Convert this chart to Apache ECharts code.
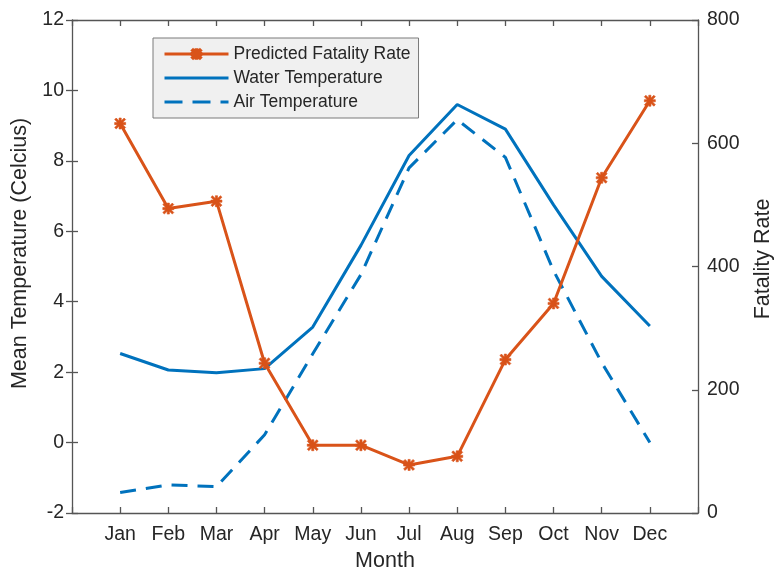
<!DOCTYPE html>
<html>
<head>
<meta charset="utf-8">
<script src="https://cdn.jsdelivr.net/npm/echarts@6/dist/echarts.min.js"></script>
<style>
  html, body { margin: 0; padding: 0; background: #fff; }
  #chart { width: 774px; height: 572px; }
</style>
</head>
<body>
<div id="chart"></div>
<script>
// Monthly series
const months = ['Jan', 'Feb', 'Mar', 'Apr', 'May', 'Jun', 'Jul', 'Aug', 'Sep', 'Oct', 'Nov', 'Dec'];
const fatalityRate = [632, 494, 506, 243, 110, 110, 78, 92, 249, 340, 544, 669];
const waterTemp = [2.53, 2.06, 1.98, 2.10, 3.28, 5.6, 8.15, 9.6, 8.9, 6.75, 4.72, 3.31];
const airTemp = [-1.42, -1.2, -1.25, 0.22, 2.52, 4.77, 7.8, 9.17, 8.1, 4.88, 2.27, 0.0];

// Axis ranges and tick steps
const tempRange = { min: -2, max: 12, step: 2 };
const rateRange = { min: 0, max: 800, step: 200 };

const FONT = '"Liberation Sans", Arial, Helvetica, sans-serif';
const TEXT = '#262626';
const AXIS = '#555555';
const BLUE = '#0072BD';
const ORANGE = '#D95319';
const CLEAR = 'rgba(255,255,255,0)';

// Asterisk marker built from four bars
const ASTERISK = 'path://M0 4 L10 4 L10 6 L0 6 Z M4 0 L6 0 L6 10 L4 10 Z ' +
  'M1.4 0 L10 8.6 L8.6 10 L0 1.4 Z M8.6 0 L10 1.4 L1.4 10 L0 8.6 Z';

const toPoints = (vals) => vals.map((v, i) => [i + 1, v]);

const axisLine = () => ({ show: true, onZero: false, lineStyle: { color: AXIS, width: 1.3 } });
const axisTick = () => ({ show: true, inside: true, length: 6, lineStyle: { color: AXIS, width: 1.3 } });

const chart = echarts.init(document.getElementById('chart'));
chart.setOption({
  animation: false,
  grid: { left: 72, right: 76, top: 20, bottom: 59, outerBoundsMode: 'none' },
  legend: {
    data: [
      { name: 'Predicted Fatality Rate', lineStyle: { width: 3 } },
      { name: 'Water Temperature', lineStyle: { width: 3 }, itemStyle: { color: CLEAR, borderColor: CLEAR, borderWidth: 0 } },
      { name: 'Air Temperature', lineStyle: { width: 3, type: [18, 10] }, itemStyle: { color: CLEAR, borderColor: CLEAR, borderWidth: 0 } }
    ],
    orient: 'vertical',
    left: 153,
    top: 38,
    itemWidth: 64,
    itemHeight: 12,
    itemGap: 6,
    padding: [7, 8, 7, 10],
    backgroundColor: '#f0f0f0',
    borderColor: '#7a7a7a',
    borderWidth: 1,
    borderRadius: 0,
    textStyle: { color: TEXT, fontSize: 17.5, fontFamily: FONT }
  },
  xAxis: [
    { type: 'value', position: 'bottom', min: 0, max: 13, interval: 1,
      name: 'Month', nameLocation: 'middle', nameGap: 37,
      nameTextStyle: { color: TEXT, fontSize: 21.5, fontFamily: FONT },
      axisLine: axisLine(), axisTick: axisTick(),
      axisLabel: { color: TEXT, fontSize: 19.5, fontFamily: FONT, margin: 12, formatter: (v) => months[v - 1] || '' },
      splitLine: { show: false } },
    { type: 'value', position: 'top', min: 0, max: 13, interval: 1,
      axisLine: axisLine(), axisTick: axisTick(),
      axisLabel: { show: false }, splitLine: { show: false } }
  ],
  yAxis: [
    { type: 'value', position: 'left', min: tempRange.min, max: tempRange.max, interval: tempRange.step,
      name: 'Mean Temperature (Celcius)', nameLocation: 'middle', nameGap: 38, nameRotate: 90,
      nameTextStyle: { color: TEXT, fontSize: 21.5, fontFamily: FONT, padding: [0, 0, 0, 26] },
      axisLine: axisLine(), axisTick: axisTick(),
      axisLabel: { color: TEXT, fontSize: 19.5, fontFamily: FONT, margin: 8 },
      splitLine: { show: false } },
    { type: 'value', position: 'right', min: rateRange.min, max: rateRange.max, interval: rateRange.step,
      name: 'Fatality Rate', nameLocation: 'middle', nameGap: 54, nameRotate: 90,
      nameTextStyle: { color: TEXT, fontSize: 21.5, fontFamily: FONT, padding: [0, 0, 0, 15] },
      axisLine: axisLine(), axisTick: axisTick(),
      axisLabel: { color: TEXT, fontSize: 19.5, fontFamily: FONT, margin: 9 },
      splitLine: { show: false } },
    { // temperature ticks repeated along the right edge of the box
      type: 'value', position: 'right', offset: 0,
      min: tempRange.min, max: tempRange.max, interval: tempRange.step,
      axisLine: { show: false }, axisTick: axisTick(),
      axisLabel: { show: false }, splitLine: { show: false } }
  ],
  series: [
    { name: 'Water Temperature', type: 'line', yAxisIndex: 0, data: toPoints(waterTemp), symbol: 'none',
      lineStyle: { color: BLUE, width: 3 }, itemStyle: { color: BLUE } },
    { name: 'Air Temperature', type: 'line', yAxisIndex: 0, data: toPoints(airTemp), symbol: 'none',
      lineStyle: { color: BLUE, width: 3, type: [16, 10] }, itemStyle: { color: BLUE } },
    { name: 'Predicted Fatality Rate', type: 'line', yAxisIndex: 1, data: toPoints(fatalityRate),
      symbol: ASTERISK, symbolSize: 11,
      lineStyle: { color: ORANGE, width: 3 },
      itemStyle: { color: ORANGE, borderColor: ORANGE, borderWidth: 0.6 } }
  ]
});
</script>
</body>
</html>
